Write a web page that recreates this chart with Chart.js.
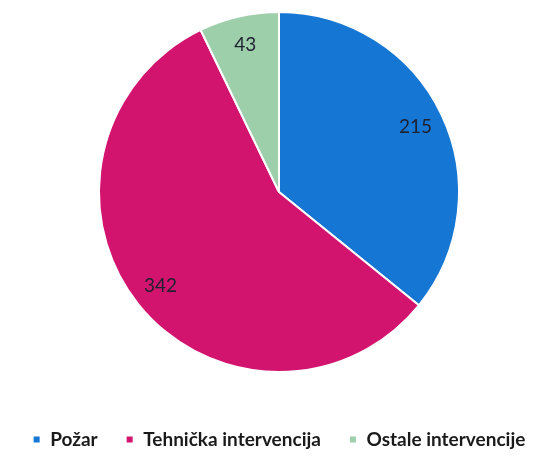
<!DOCTYPE html>
<html>
<head>
<meta charset="utf-8">
<script src="https://cdn.jsdelivr.net/npm/chart.js@4/dist/chart.umd.min.js"></script>
<style>
  html, body { margin: 0; padding: 0; background: #fff; }
  #wrap { width: 554px; height: 459px; }
</style>
</head>
<body>
<div id="wrap"><canvas id="grafikon" width="554" height="459"></canvas></div>
<script>
// podaci
const kategorije = ['Požar', 'Tehnička intervencija', 'Ostale intervencije'];
const vrijednosti = [215, 342, 43];
const boje = ['#1676d4', '#d3146f', '#9ecfab'];

// oznake vrijednosti unutar isječaka
const oznakePlugin = {
  id: 'oznake',
  afterDatasetsDraw(chart) {
    const ctx = chart.ctx;
    const meta = chart.getDatasetMeta(0);
    ctx.save();
    ctx.font = '19px Lato, "Open Sans", sans-serif';
    ctx.fillStyle = '#1f2130';
    ctx.textAlign = 'center';
    ctx.textBaseline = 'middle';
    meta.data.forEach((arc, i) => {
      const p = arc.getProps(['x', 'y', 'startAngle', 'endAngle', 'outerRadius']);
      const kut = (p.startAngle + p.endAngle) / 2;
      const r = p.outerRadius * 0.84;
      ctx.fillText(String(vrijednosti[i]), p.x + Math.cos(kut) * r, p.y + Math.sin(kut) * r);
    });
    ctx.restore();
  }
};

new Chart(document.getElementById('grafikon'), {
  type: 'pie',
  data: {
    labels: kategorije,
    datasets: [{
      data: vrijednosti,
      backgroundColor: boje,
      borderColor: '#ffffff',
      borderWidth: 2,
      radius: 180
    }]
  },
  options: {
    responsive: false,
    animation: false,
    layout: { padding: { top: 0, left: 4, right: 0, bottom: 0 } },
    plugins: {
      tooltip: { enabled: false },
      legend: {
        position: 'bottom',
        title: { display: true, text: '', font: { size: 10 }, padding: { top: 6, bottom: 0 } },
        labels: {
          boxWidth: 8,
          boxHeight: 8,
          padding: 28,
          color: '#1a1a1a',
          font: { family: 'Lato', size: 19, weight: 'bold' }
        }
      }
    }
  },
  plugins: [oznakePlugin]
});
</script>
</body>
</html>
